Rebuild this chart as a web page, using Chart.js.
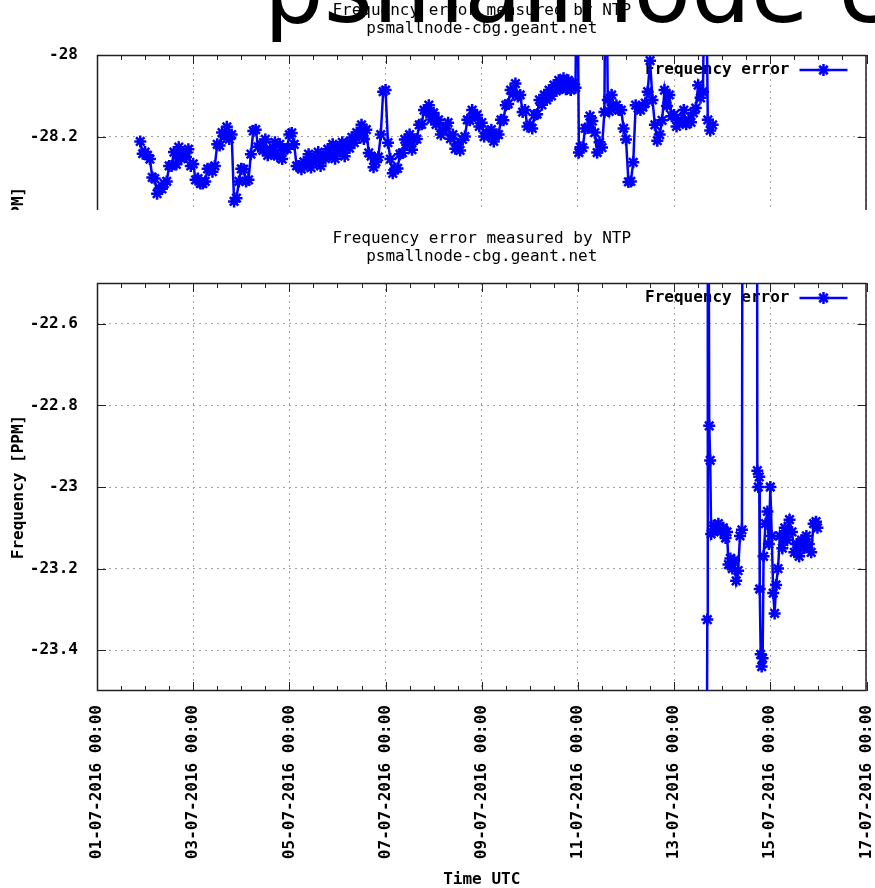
<!DOCTYPE html>
<html>
<head>
<meta charset="utf-8">
<title>Frequency error measured by NTP</title>
<script src="https://cdn.jsdelivr.net/npm/chart.js@4.4.1/dist/chart.umd.min.js"></script>
<style>
  html, body { margin: 0; padding: 0; background: #fff; overflow: hidden; }
  #page { position: relative; width: 875px; height: 888px; overflow: hidden; }
  #topWrap { position: absolute; left: 0; top: 0; width: 875px; height: 210px; overflow: hidden; }
  #bottomWrap { position: absolute; left: 0; top: 228px; width: 875px; height: 660px; }
  #heading {
    position: absolute; left: 264px; top: -57px; white-space: nowrap;
    font-family: "DejaVu Sans", sans-serif; font-size: 94px; line-height: 94px;
    color: #000; z-index: 5;
  }
  canvas { display: block; }
</style>
</head>
<body>
<div id="page">
  <div id="topWrap"><canvas id="topChart" width="875" height="667"></canvas></div>
  <div id="heading">psmallnode cbg</div>
  <div id="bottomWrap"><canvas id="bottomChart" width="875" height="660"></canvas></div>
</div>
<script>
  // ---- Data ------------------------------------------------
  // x values are days since 01-07-2016 00:00 UTC, y values are PPM
  const X_TICK_DAYS = [0, 2, 4, 6, 8, 10, 12, 14, 16];
  const X_TICK_LABELS = [
    '01-07-2016 00:00', '03-07-2016 00:00', '05-07-2016 00:00',
    '07-07-2016 00:00', '09-07-2016 00:00', '11-07-2016 00:00',
    '13-07-2016 00:00', '15-07-2016 00:00', '17-07-2016 00:00',
  ];

  const TOP_Y_TICKS = [-29, -28.8, -28.6, -28.4, -28.2, -28];
  const BOTTOM_Y_TICKS = [-23.4, -23.2, -23, -22.8, -22.6];

  const TOP_DAYS = [
    0.90, 0.95, 1.00, 1.05, 1.10, 1.15, 1.20, 1.25, 1.30, 1.35, 1.40, 1.45, 1.50, 1.55, 1.60, 1.65,
    1.70, 1.75, 1.80, 1.85, 1.90, 1.95, 2.00, 2.05, 2.10, 2.15, 2.20, 2.25, 2.30, 2.35, 2.40, 2.45,
    2.50, 2.55, 2.60, 2.65, 2.70, 2.75, 2.80, 2.85, 2.90, 2.95, 3.00, 3.05, 3.10, 3.15, 3.20, 3.25,
    3.30, 3.35, 3.40, 3.45, 3.50, 3.55, 3.60, 3.65, 3.70, 3.75, 3.80, 3.85, 3.90, 3.95, 4.00, 4.05,
    4.10, 4.15, 4.20, 4.25, 4.30, 4.35, 4.40, 4.45, 4.50, 4.55, 4.60, 4.65, 4.70, 4.75, 4.80, 4.85,
    4.90, 4.95, 5.00, 5.05, 5.10, 5.15, 5.20, 5.25, 5.30, 5.35, 5.40, 5.45, 5.50, 5.55, 5.60, 5.65,
    5.70, 5.75, 5.80, 5.85, 5.90, 5.95, 6.00, 6.05, 6.10, 6.15, 6.20, 6.25, 6.30, 6.35, 6.40, 6.45,
    6.50, 6.55, 6.60, 6.65, 6.70, 6.75, 6.80, 6.85, 6.90, 6.95, 7.00, 7.05, 7.10, 7.15, 7.20, 7.25,
    7.30, 7.35, 7.40, 7.45, 7.50, 7.55, 7.60, 7.65, 7.70, 7.75, 7.80, 7.85, 7.90, 7.95, 8.00, 8.05,
    8.10, 8.15, 8.20, 8.25, 8.30, 8.35, 8.40, 8.45, 8.50, 8.55, 8.60, 8.65, 8.70, 8.75, 8.80, 8.85,
    8.90, 8.95, 9.00, 9.05, 9.10, 9.15, 9.20, 9.25, 9.30, 9.35, 9.40, 9.45, 9.50, 9.55, 9.60, 9.65,
    9.70, 9.75, 9.80, 9.85, 9.90, 9.95, 9.98, 10.02, 10.05, 10.10, 10.15, 10.20, 10.25, 10.30, 10.35, 10.40,
    10.45, 10.50, 10.55, 10.58, 10.62, 10.65, 10.70, 10.75, 10.80, 10.85, 10.90, 10.95, 11.00, 11.05, 11.10, 11.15,
    11.20, 11.25, 11.30, 11.35, 11.40, 11.45, 11.50, 11.55, 11.60, 11.65, 11.70, 11.75, 11.80, 11.85, 11.90, 11.95,
    12.00, 12.05, 12.10, 12.15, 12.20, 12.25, 12.30, 12.35, 12.40, 12.45, 12.50, 12.55, 12.60, 12.65, 12.70, 12.75,
    12.80,
  ];
  const TOP_PPM = [
    -28.212, -28.242, -28.238, -28.246, -28.255, -28.300, -28.303, -28.340, -28.327, -28.328, -28.315, -28.310, -28.272, -28.272, -28.238, -28.268,
    -28.226, -28.254, -28.243, -28.250, -28.231, -28.272, -28.267, -28.306, -28.303, -28.315, -28.315, -28.310, -28.279, -28.280, -28.286, -28.272,
    -28.219, -28.222, -28.190, -28.200, -28.176, -28.206, -28.195, -28.359, -28.351, -28.310, -28.279, -28.280, -28.310, -28.306, -28.243, -28.186,
    -28.183, -28.225, -28.219, -28.234, -28.207, -28.246, -28.231, -28.240, -28.214, -28.248, -28.219, -28.255, -28.231, -28.230, -28.195, -28.191,
    -28.219, -28.272, -28.272, -28.280, -28.262, -28.268, -28.243, -28.276, -28.255, -28.260, -28.238, -28.272, -28.248, -28.254, -28.231, -28.246,
    -28.219, -28.254, -28.226, -28.236, -28.214, -28.248, -28.219, -28.228, -28.202, -28.215, -28.190, -28.198, -28.171, -28.206, -28.183, -28.240,
    -28.248, -28.275, -28.262, -28.250, -28.195, -28.090, -28.086, -28.215, -28.255, -28.290, -28.279, -28.278, -28.243, -28.240, -28.207, -28.220,
    -28.195, -28.232, -28.207, -28.206, -28.171, -28.170, -28.135, -28.140, -28.123, -28.158, -28.142, -28.170, -28.159, -28.195, -28.183, -28.180,
    -28.166, -28.205, -28.195, -28.230, -28.219, -28.234, -28.207, -28.200, -28.159, -28.160, -28.135, -28.150, -28.147, -28.175, -28.166, -28.200,
    -28.190, -28.196, -28.183, -28.212, -28.195, -28.195, -28.159, -28.160, -28.123, -28.120, -28.086, -28.095, -28.070, -28.102, -28.098, -28.140,
    -28.135, -28.175, -28.171, -28.180, -28.147, -28.145, -28.110, -28.122, -28.098, -28.110, -28.086, -28.100, -28.074, -28.088, -28.062, -28.080,
    -28.057, -28.084, -28.062, -28.086, -28.070, -28.080, -27.600, -28.239, -28.226, -28.227, -28.180, -28.179, -28.150, -28.162, -28.190, -28.239,
    -28.214, -28.227, -28.140, -27.600, -28.110, -28.138, -28.098, -28.128, -28.123, -28.135, -28.135, -28.180, -28.207, -28.311, -28.310, -28.263,
    -28.123, -28.130, -28.135, -28.128, -28.118, -28.090, -28.014, -28.110, -28.171, -28.210, -28.195, -28.160, -28.086, -28.125, -28.098, -28.150,
    -28.147, -28.175, -28.166, -28.160, -28.135, -28.170, -28.159, -28.165, -28.142, -28.130, -28.074, -28.105, -28.090, -27.600, -28.159, -28.185,
    -28.171,
  ];

  const BOTTOM_DAYS = [
    12.66, 12.69, 12.70, 12.73, 12.75, 12.77, 12.82, 12.87, 12.92, 12.97, 13.02, 13.07, 13.10, 13.13, 13.17, 13.21,
    13.25, 13.29, 13.33, 13.37, 13.41, 13.43, 13.72, 13.73, 13.75, 13.77, 13.78, 13.80, 13.82, 13.84, 13.86, 13.90,
    13.94, 13.97, 14.00, 14.03, 14.06, 14.09, 14.12, 14.16, 14.20, 14.25, 14.30, 14.35, 14.40, 14.45, 14.50, 14.55,
    14.60, 14.65, 14.70, 14.75, 14.80, 14.85, 14.90, 14.95, 14.98,
  ];
  const BOTTOM_PPM = [
    -24.500, -23.325, -21.500, -22.850, -22.935, -23.115, -23.095, -23.105, -23.090, -23.110, -23.100, -23.125, -23.110, -23.190, -23.175, -23.200,
    -23.180, -23.230, -23.205, -23.120, -23.105, -21.500, -21.500, -22.960, -23.000, -22.975, -23.250, -23.410, -23.440, -23.420, -23.170, -23.090,
    -23.060, -23.140, -23.000, -23.120, -23.260, -23.310, -23.240, -23.200, -23.120, -23.150, -23.100, -23.130, -23.080, -23.110, -23.160, -23.140,
    -23.170, -23.130, -23.150, -23.120, -23.140, -23.160, -23.090, -23.085, -23.100,
  ];

  // ---- Look ------------------------------------------------
  const MONO = '"DejaVu Sans Mono", "Liberation Mono", monospace';
  const BLUE = '#0000ff';
  const GRID = '#a0a0a0';
  const FRAME = '#202020';
  const TITLE_LINES = ['Frequency error measured by NTP', 'psmallnode-cbg.geant.net'];
  const LEGEND_TEXT = 'Frequency error';

  function drawStar(ctx, x, y, r) {
    ctx.beginPath();
    ctx.moveTo(x - r, y); ctx.lineTo(x + r, y);
    ctx.moveTo(x, y - r); ctx.lineTo(x, y + r);
    const d = r * Math.SQRT1_2;
    ctx.moveTo(x - d, y - d); ctx.lineTo(x + d, y + d);
    ctx.moveTo(x - d, y + d); ctx.lineTo(x + d, y - d);
    ctx.stroke();
  }

  // gnuplot-style frame, inward ticks, legend and two-line title
  const gnuplotDecor = {
    id: 'gnuplotDecor',
    beforeDatasetsDraw(chart) {
      const { ctx, chartArea: a, scales: { x, y } } = chart;
      ctx.save();
      ctx.strokeStyle = FRAME;
      ctx.lineWidth = 1;
      // half-day ticks on top and bottom border
      for (let d = 0; d <= 16; d += 0.5) {
        const px = Math.round(x.getPixelForValue(d)) + 0.5;
        const len = d % 2 === 0 ? 9 : 5;
        ctx.beginPath();
        ctx.moveTo(px, a.bottom); ctx.lineTo(px, a.bottom - len);
        ctx.moveTo(px, a.top); ctx.lineTo(px, a.top + len);
        ctx.stroke();
      }
      y.ticks.forEach((t) => {
        const py = Math.round(y.getPixelForValue(t.value)) + 0.5;
        ctx.beginPath();
        ctx.moveTo(a.left, py); ctx.lineTo(a.left + 9, py);
        ctx.moveTo(a.right, py); ctx.lineTo(a.right - 9, py);
        ctx.stroke();
      });
      ctx.lineWidth = 1.5;
      ctx.strokeRect(a.left + 0.5, a.top + 0.5, a.width - 1, a.height - 1);

      // legend (under the data, like gnuplot)
      const ly = a.top + 15;
      ctx.fillStyle = '#000';
      ctx.font = 'bold 16px ' + MONO;
      ctx.textAlign = 'right';
      ctx.textBaseline = 'middle';
      ctx.fillText(LEGEND_TEXT, a.right - 77, ly);
      ctx.strokeStyle = BLUE;
      ctx.lineWidth = 2.5;
      ctx.beginPath();
      ctx.moveTo(a.right - 67, ly); ctx.lineTo(a.right - 19, ly);
      ctx.stroke();
      drawStar(ctx, a.right - 43, ly, 6);
      ctx.restore();
    },
    afterDraw(chart) {
      const { ctx, chartArea: a } = chart;
      ctx.save();
      ctx.fillStyle = '#000';
      ctx.font = '16px ' + MONO;
      ctx.textAlign = 'center';
      ctx.textBaseline = 'middle';
      const cx = (a.left + a.right) / 2;
      TITLE_LINES.forEach((line, i) => ctx.fillText(line, cx, 11 + i * 18));
      ctx.restore();
    },
  };

  function buildPoints(days, ppm) {
    return days.map((d, i) => ({ x: d, y: ppm[i] }));
  }

  function makeChart(canvasId, days, ppm, yMin, yMax, yTicks, xAxisHeight) {
    return new Chart(document.getElementById(canvasId), {
      type: 'line',
      data: {
        datasets: [{
          label: LEGEND_TEXT,
          data: buildPoints(days, ppm),
          borderColor: BLUE,
          backgroundColor: BLUE,
          borderWidth: 2.5,
          pointStyle: 'star',
          pointRadius: 6,
          pointBorderWidth: 2.5,
          pointBorderColor: BLUE,
          tension: 0,
          fill: false,
        }],
      },
      options: {
        responsive: false,
        animation: false,
        devicePixelRatio: 1,
        layout: { padding: { top: 55, right: 8, left: 0, bottom: 0 } },
        plugins: { legend: { display: false }, title: { display: false }, tooltip: { enabled: false } },
        scales: {
          x: {
            type: 'linear', min: 0, max: 16,
            afterBuildTicks: (s) => { s.ticks = X_TICK_DAYS.map((v) => ({ value: v })); },
            afterFit: (s) => { s.height = xAxisHeight; s.paddingLeft = 0; s.paddingRight = 0; },
            grid: { color: GRID, lineWidth: 1, drawTicks: false },
            border: { display: false, dash: [2, 4] },
            ticks: {
              autoSkip: false, minRotation: 90, maxRotation: 90, padding: 14, color: '#000',
              font: { family: MONO, size: 16, weight: 'bold' },
              callback: (v, i) => X_TICK_LABELS[i],
            },
            title: {
              display: true, text: 'Time UTC', color: '#000', padding: { top: 0, bottom: 0 },
              font: { family: MONO, size: 16, weight: 'bold', lineHeight: 1 },
            },
          },
          y: {
            type: 'linear', min: yMin, max: yMax,
            afterBuildTicks: (s) => { s.ticks = yTicks.map((v) => ({ value: v })); },
            afterFit: (s) => { s.width = 97; s.paddingTop = 0; s.paddingBottom = 0; },
            grid: { color: GRID, lineWidth: 1, drawTicks: false },
            border: { display: false, dash: [2, 4] },
            ticks: {
              padding: 19, color: '#000',
              font: { family: MONO, size: 16, weight: 'bold' },
              callback: (v) => String(+v.toFixed(1)),
            },
            title: {
              display: true, text: 'Frequency [PPM]', color: '#000', padding: { top: 9, bottom: 0 },
              font: { family: MONO, size: 16, weight: 'bold', lineHeight: 1.2 },
            },
          },
        },
      },
      plugins: [gnuplotDecor],
    });
  }

  makeChart('topChart', TOP_DAYS, TOP_PPM, -29, -28, TOP_Y_TICKS, 204);
  makeChart('bottomChart', BOTTOM_DAYS, BOTTOM_PPM, -23.5, -22.5, BOTTOM_Y_TICKS, 197);
</script>
</body>
</html>
